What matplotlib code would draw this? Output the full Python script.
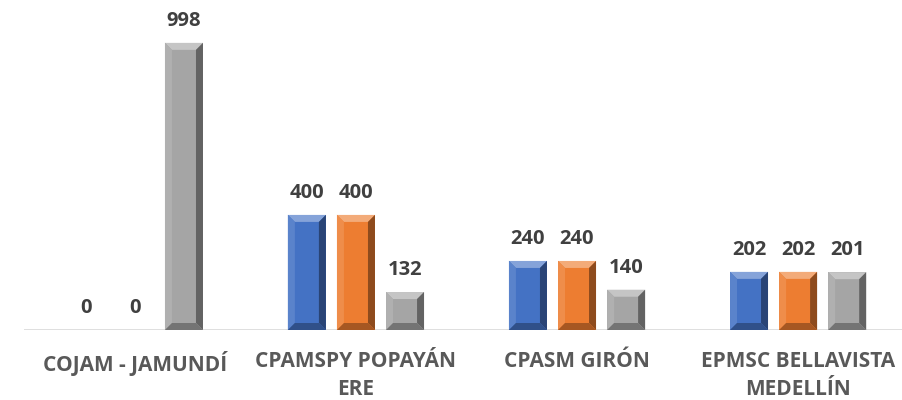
import matplotlib.pyplot as plt
from matplotlib.patches import Polygon
from matplotlib.colors import to_rgb
import numpy as np

categories = ["COJAM - JAMUNDÍ", "CPAMSPY POPAYÁN\nERE", "CPASM GIRÓN", "EPMSC BELLAVISTA\nMEDELLÍN"]
serie_1 = [0, 400, 240, 202]
serie_2 = [0, 400, 240, 202]
serie_3 = [998, 132, 140, 201]
colors = ["#4472C4", "#ED7D31", "#A5A5A5"]

plt.rcParams["font.family"] = ["Open Sans", "DejaVu Sans"]


def shade(color, f):
    c = np.array(to_rgb(color))
    if f > 0:
        return tuple(c + (1 - c) * f)
    return tuple(c * (1 + f))


fig = plt.figure(figsize=(9.02, 4.0), dpi=100)
ax = fig.add_axes([0.027, 0.175, 0.973, 0.825])
ax.set_xlim(-0.5, 3.47)
ax.set_ylim(0, 1147)

x = np.arange(len(categories))
width = 0.172
step = 0.222
series = [serie_1, serie_2, serie_3]

# pixel size in data units, for the bevel edges
px_x = (3.97) / (0.973 * 902)
px_y = 1147 / (0.825 * 400)
bev_x = 7 * px_x
bev_y = 7 * px_y

for i, vals in enumerate(series):
    pos = x + (i - 1) * step
    bars = ax.bar(pos, vals, width, color=colors[i], edgecolor="none", zorder=2)
    for b, v in zip(bars, vals):
        ax.text(b.get_x() + width / 2, v + 42, str(v), ha="center", va="bottom",
                fontsize=14.5, fontweight="bold", color="#404040")
        if v == 0:
            continue
        x0, x1 = b.get_x(), b.get_x() + width
        y0, y1 = 0, v
        by = min(bev_y, v / 3)
        c = colors[i]
        polys = [
            ([(x0, y1), (x1, y1), (x1 - bev_x, y1 - by), (x0 + bev_x, y1 - by)], shade(c, 0.35)),
            ([(x0, y0), (x0, y1), (x0 + bev_x, y1 - by), (x0 + bev_x, y0 + by)], shade(c, 0.12)),
            ([(x1, y0), (x1, y1), (x1 - bev_x, y1 - by), (x1 - bev_x, y0 + by)], shade(c, -0.4)),
            ([(x0, y0), (x1, y0), (x1 - bev_x, y0 + by), (x0 + bev_x, y0 + by)], shade(c, -0.3)),
        ]
        for pts, col in polys:
            ax.add_patch(Polygon(pts, closed=True, facecolor=col, edgecolor="none", zorder=3))

ax.axhline(0, color="#D9D9D9", lw=1.2, zorder=1)
for s in ax.spines.values():
    s.set_visible(False)
ax.set_yticks([])
ax.set_xticks(x)
ax.set_xticklabels(categories, fontsize=15, fontweight="bold", color="#595959", linespacing=1.45)
ax.tick_params(axis="x", length=0, pad=15)

fig.savefig("out.png", dpi=100)
